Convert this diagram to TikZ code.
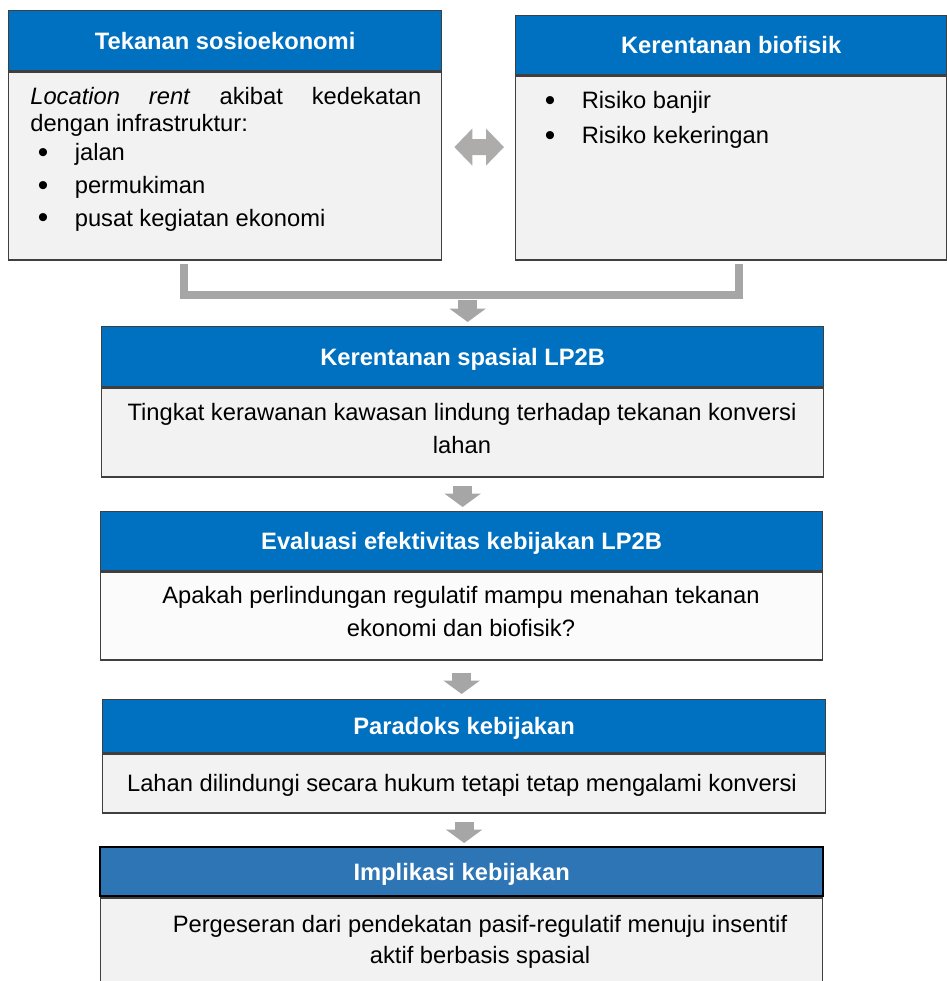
\documentclass[tikz,border=0pt]{standalone}
\usepackage{fontspec}
\setmainfont{Liberation Sans}
\usetikzlibrary{positioning,calc,arrows.meta}
\definecolor{hdblue}{HTML}{0070C0}
\definecolor{hdbluelt}{HTML}{2E75B6}
\definecolor{bodygray}{HTML}{F2F2F2}
\definecolor{bodywhite}{HTML}{FBFBFB}
\definecolor{bordergray}{HTML}{3F3F3F}
\definecolor{arrgray}{HTML}{A6A6A6}
\definecolor{dblgray}{HTML}{AEABAB}
\newcommand{\bitem}[1]{\makebox[0.71cm][l]{\hspace*{-0.03cm}\raisebox{-1pt}{\fontsize{17}{17}\selectfont\textbullet}}#1}
\tikzset{
hd/.style={rectangle,draw=bordergray,line width=0.8pt,fill=hdblue,text=white,
  font=\fontsize{13.5}{16}\selectfont\bfseries,text height=9.7pt,text depth=0pt,
  anchor=north west,inner sep=0pt},
bd/.style={rectangle,draw=bordergray,line width=0.8pt,fill=bodygray,inner sep=0pt},
txc/.style={font=\fontsize{13.5}{18.7}\selectfont,align=center,anchor=north,inner sep=0pt},
txl/.style={font=\fontsize{13.5}{15.6}\selectfont,align=left,anchor=north west,inner sep=0pt},
blk/.style={draw=arrgray,line width=0.38cm,-{Triangle[width=0.72cm,length=0.27cm]}},
dbl/.style={draw=dblgray,line width=0.32cm,{Triangle[width=0.72cm,length=0.36cm]}-{Triangle[width=0.72cm,length=0.36cm]}},
brk/.style={draw=arrgray,line width=0.15cm,line join=miter},
}
\begin{document}
\begin{tikzpicture}[x=0.02cm,y=-0.02cm]
	\useasboundingbox (0,0) rectangle (947,981);

	\node[hd,minimum width=8.66cm,minimum height=1.2cm] (h1) at (8,10) {Tekanan sosioekonomi};
	\node[bd,below=0pt of h1,minimum width=8.66cm,minimum height=3.76cm] (b1) {};
	\node[txl] (t1) at (30,87) {\makebox[7.82cm][s]{\textit{Location} \textit{rent} akibat kedekatan}\\
		dengan infrastruktur:\\[0.8pt]
		\hspace*{0.18cm}\bitem{jalan}\\[3pt]
		\hspace*{0.18cm}\bitem{permukiman}\\[3pt]
		\hspace*{0.18cm}\bitem{pusat kegiatan ekonomi}};

	\node[hd,minimum width=8.62cm,minimum height=1.18cm] (h2) at (515,15) {Kerentanan biofisik};
	\node[bd,below=0pt of h2,minimum width=8.62cm,minimum height=3.68cm] (b2) {};
	\node[txl,font=\fontsize{13.5}{19.8}\selectfont] (t2) at (546,91) {\bitem{Risiko banjir}\\\bitem{Risiko kekeringan}};

	\node[hd,minimum width=14.44cm,minimum height=1.2cm] (h3) at (101,326) {Kerentanan spasial LP2B};
	\node[bd,below=0pt of h3,minimum width=14.44cm,minimum height=1.78cm] (b3) {};
	\node[txc] (t3) at (462,403) {Tingkat kerawanan kawasan lindung terhadap tekanan konversi\\lahan};

	\node[hd,minimum width=14.44cm,minimum height=1.18cm] (h4) at (100,511) {Evaluasi efektivitas kebijakan LP2B};
	\node[bd,fill=bodywhite,below=0pt of h4,minimum width=14.44cm,minimum height=1.76cm] (b4) {};
	\node[txc] (t4) at (461,586) {Apakah perlindungan regulatif mampu menahan tekanan\\ekonomi dan biofisik?};

	\node[hd,minimum width=14.46cm,minimum height=1.06cm] (h5) at (102,699) {Paradoks kebijakan};
	\node[bd,below=0pt of h5,minimum width=14.46cm,minimum height=1.18cm] (b5) {};
	\node[txc] (t5) at (462,774) {Lahan dilindungi secara hukum tetapi tetap mengalami konversi};

	\node[hd,fill=hdbluelt,draw=black,line width=1.4pt,minimum width=14.46cm,minimum height=0.98cm] (h6) at (99,846) {Implikasi kebijakan};
	\node[bd,below=0pt of h6,minimum width=14.44cm,minimum height=2.4cm] (b6) {};
	\node[txc,font=\fontsize{13.5}{17.6}\selectfont] (t6) at (480,915) {Pergeseran dari pendekatan pasif-regulatif menuju insentif\\aktif berbasis spasial};

	\draw[dbl,shorten <=0.24cm,shorten >=0.22cm] ($(b1.east)+(0,-19)$) -- ($(b2.west)+(0,-21)$);
	\draw[brk] ($(b1.south)+(-41,3)$) |- ($(b2.south)+(8,34)$) -- ($(b2.south)+(8,3)$);
	\coordinate (bm) at ($(b1.south)+(242.5,39)$);

	\draw[blk,shorten >=0.08cm] (bm) -- (bm |- h3.north);
	\draw[blk,shorten <=0.16cm,shorten >=0.08cm] (b3.south) -- (b3.south |- h4.north);
	\draw[blk,shorten <=0.24cm,shorten >=0.1cm] (b4.south) -- (b4.south |- h5.north);
	\draw[blk,shorten <=0.16cm,shorten >=0.06cm] (b5.south) -- (b5.south |- h6.north);
\end{tikzpicture}
\end{document}
